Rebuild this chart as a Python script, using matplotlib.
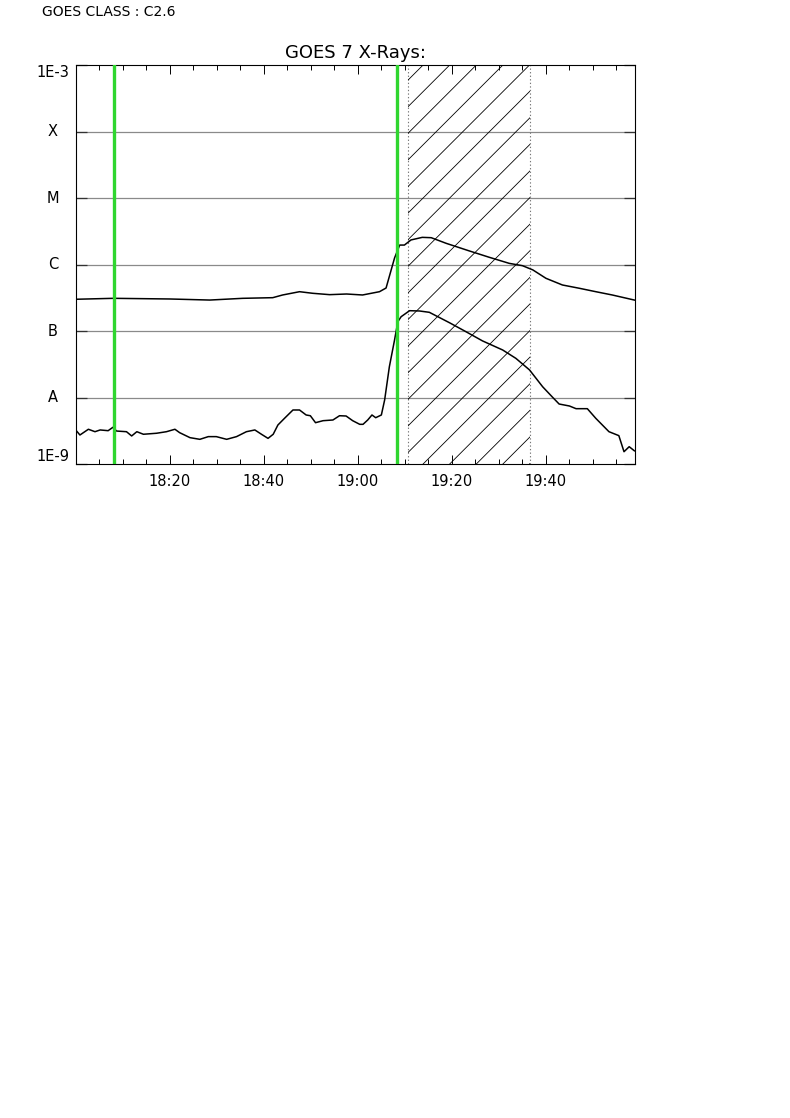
import matplotlib
matplotlib.use('Agg')
import matplotlib.pyplot as plt
import numpy as np

# minutes after 18:00 UT, flux in W/m^2
t_long = [0, 8.0, 20.0, 28.5, 35.5, 41.9, 44.0, 47.6, 50.4, 54.0, 57.6, 61.0, 64.6,
          66.0, 67.8, 68.9, 69.9, 71.3, 73.7, 75.6, 78.8, 83.7, 88.0, 92.2, 95.0,
          97.2, 100.0, 103.5, 107.1, 110.6, 114.1, 118.8]
flux_long = [3.0e-7, 3.1e-7, 3.03e-7, 2.92e-7, 3.1e-7, 3.17e-7, 3.48e-7, 3.9e-7, 3.69e-7,
             3.52e-7, 3.6e-7, 3.48e-7, 3.9e-7, 4.43e-7, 1.25e-6, 1.96e-6, 1.96e-6, 2.34e-6,
             2.56e-6, 2.53e-6, 2.08e-6, 1.6e-6, 1.28e-6, 1.04e-6, 9.6e-7, 8.3e-7, 6.2e-7,
             4.92e-7, 4.39e-7, 3.9e-7, 3.48e-7, 2.92e-7]

t_short = [0, 0.9, 2.7, 4.1, 5.2, 6.9, 7.9, 8.7, 10.8, 11.9, 13.0, 14.4, 17.2, 19.3, 21.1,
           22.1, 24.3, 26.4, 28.2, 29.9, 32.1, 34.2, 36.3, 38.1, 39.5, 40.9, 42.0, 43.0,
           44.4, 46.2, 47.6, 49.0, 49.9, 51.0, 52.6, 54.7, 56.1, 57.5, 58.9, 60.4, 61.1,
           62.1, 63.0, 63.8, 65.0, 65.7, 66.7, 67.8, 68.5, 69.2, 71.0, 73.1, 75.2, 79.5,
           83.0, 86.5, 90.8, 93.6, 96.5, 99.3, 101.4, 102.8, 105.0, 106.4, 108.8, 110.6,
           113.4, 115.5, 116.6, 117.7, 118.8]
flux_short = [3.25e-9, 2.73e-9, 3.33e-9, 3.06e-9, 3.25e-9, 3.17e-9, 3.56e-9, 3.13e-9, 3.06e-9,
              2.64e-9, 3.06e-9, 2.8e-9, 2.9e-9, 3.06e-9, 3.33e-9, 2.96e-9, 2.49e-9, 2.35e-9,
              2.58e-9, 2.58e-9, 2.35e-9, 2.58e-9, 3.06e-9, 3.25e-9, 2.8e-9, 2.43e-9, 2.8e-9,
              3.86e-9, 4.86e-9, 6.49e-9, 6.49e-9, 5.46e-9, 5.32e-9, 4.18e-9, 4.48e-9, 4.59e-9,
              5.32e-9, 5.27e-9, 4.48e-9, 3.95e-9, 3.95e-9, 4.59e-9, 5.46e-9, 4.97e-9, 5.46e-9,
              9.2e-9, 2.9e-8, 7.3e-8, 1.38e-7, 1.64e-7, 2.02e-7, 2.0e-7, 1.91e-7, 1.33e-7,
              9.75e-8, 7.1e-8, 5.18e-8, 3.88e-8, 2.6e-8, 1.45e-8, 1.01e-8, 7.98e-9, 7.45e-9,
              6.79e-9, 6.79e-9, 4.86e-9, 3.06e-9, 2.67e-9, 1.53e-9, 1.82e-9, 1.58e-9]

green_lines = [8.1, 68.4]
span = [70.6, 96.7]

xtick_pos = [20, 40, 60, 80, 100]
xtick_labels = ['18:20', '18:40', '19:00', '19:20', '19:40']
ylevels = [1e-3, 1e-4, 1e-5, 1e-6, 1e-7, 1e-8, 1e-9]
ylabels = ['1E-3', 'X', 'M', 'C', 'B', 'A', '1E-9']

W, H = 790, 1118
fig = plt.figure(figsize=(W / 100, H / 100), dpi=100)
ax = fig.add_axes([75.7 / W, 1 - 464 / H, 559.6 / W, 399 / H])

ax.set_yscale('log')
ax.set_xlim(0, 119)
ax.set_ylim(1e-9, 1e-3)

# grid at class boundaries
for lv in ylevels[1:-1]:
    ax.axhline(lv, color='#8a8a8a', lw=0.9, zorder=1)

# hatched interval
rect = ax.axvspan(span[0], span[1], facecolor='none', edgecolor='none')
for xs in span:
    ax.axvline(xs, color='#777777', lw=0.8, ls=(0, (1.2, 2)), zorder=2)
pos = ax.get_position()
ratio = (pos.height * H) / (pos.width * W)  # 45 degrees in pixels
step = 26.6 / (pos.width * W)
x0 = span[0] / 119
for c in np.arange(x0 - ratio - 0.02, (span[1] / 119) + step, step):
    ln, = ax.plot([c, c + ratio], [0, 1], color='black', lw=0.6,
                  transform=ax.transAxes, zorder=2)
    ln.set_clip_path(rect)

ax.plot(t_long, flux_long, color='black', lw=1.1, zorder=3)
ax.plot(t_short, flux_short, color='black', lw=1.1, zorder=3)

for g in green_lines:
    ax.axvline(g, color='#2fd62f', lw=2.4, zorder=4)

# ticks
ax.set_xticks(xtick_pos)
ax.set_xticklabels(xtick_labels, fontsize=10.5)
ax.set_xticks(np.arange(5, 119, 5), minor=True)
ax.tick_params(axis='x', which='major', direction='in', length=6.5, width=0.7,
               top=True, bottom=True, pad=7)
ax.tick_params(axis='x', which='minor', direction='in', length=3.4, width=0.7,
               top=True, bottom=True)
ax.set_yticks(ylevels)
ax.yaxis.set_minor_locator(matplotlib.ticker.NullLocator())
ax.set_yticklabels([])
ax.tick_params(axis='y', which='major', direction='in', length=8, width=0.9,
               left=True, right=True, color='#333333')

trans = matplotlib.transforms.blended_transform_factory(ax.transAxes, ax.transData)
for lv, lab in zip(ylevels, ylabels):
    va = 'center'
    if lv == ylevels[0]:
        va = 'top'
    elif lv == ylevels[-1]:
        va = 'bottom'
    ax.text(-0.041, lv, lab, transform=trans, ha='center', va=va, fontsize=10.5)

for s in ax.spines.values():
    s.set_linewidth(0.8)

ax.set_title('GOES 7 X-Rays:', fontsize=13, pad=5)
fig.text(41.5 / W, 1 - 12 / H, 'GOES CLASS : C2.6', fontsize=10, ha='left', va='center')

fig.savefig('out.png', dpi=100)
